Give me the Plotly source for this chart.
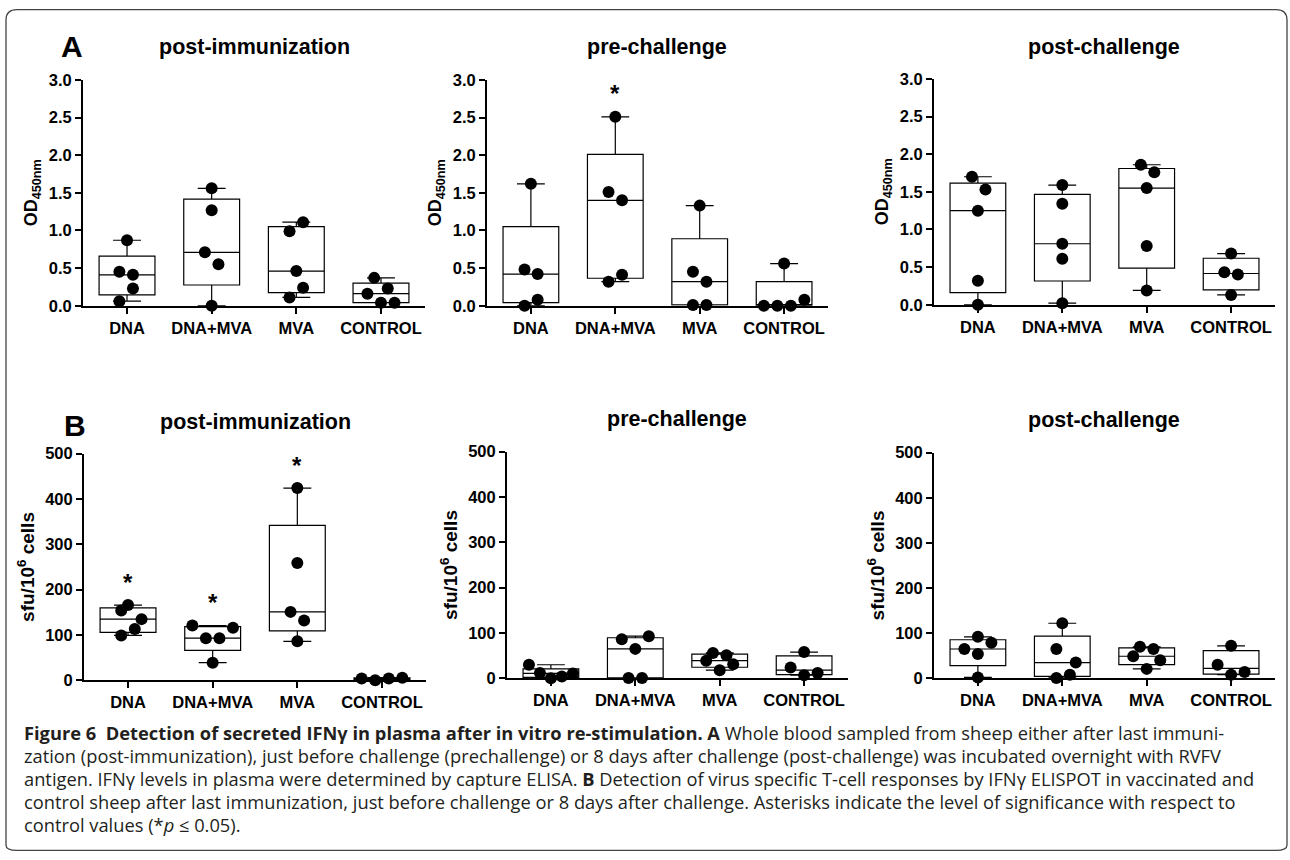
import numpy as np
import plotly.graph_objects as go

W, H = 1290, 860

CATEGORIES = ["DNA", "DNA+MVA", "MVA", "CONTROL"]

# ---------- Panel A: IFN-gamma ELISA, OD450nm (one list per group) ----------
A_POSTIMM = [[0.87, 0.45, 0.41, 0.23, 0.06],
             [1.56, 1.27, 0.71, 0.55, 0.00],
             [1.11, 0.99, 0.46, 0.24, 0.11],
             [0.37, 0.16, 0.23, 0.04, 0.04]]
A_PRECH = [[1.62, 0.48, 0.42, 0.08, 0.00],
           [2.51, 1.51, 1.40, 0.41, 0.32],
           [1.33, 0.45, 0.32, 0.01, 0.01],
           [0.56, 0.08, 0.00, 0.00, 0.00]]
A_POSTCH = [[1.70, 1.53, 1.25, 0.32, 0.00],
            [1.59, 1.34, 0.81, 0.61, 0.02],
            [1.86, 1.76, 1.55, 0.78, 0.19],
            [0.68, 0.43, 0.40, 0.13]]

# ---------- Panel B: IFN-gamma ELISPOT, sfu/10^6 cells ----------
B_POSTIMM = [[166, 154, 135, 113, 99],
             [121, 116, 93, 93, 39],
             [424, 259, 151, 132, 86],
             [4, 0, 4, 6]]
B_PRECH = [[30, 12, 0, 4, 11],
           [86, 93, 65, 1, 1],
           [56, 51, 39, 31, 18],
           [58, 24, 12, 7]]
B_POSTCH = [[92, 79, 65, 54, 2],
            [122, 65, 35, 8, 1],
            [70, 65, 49, 40, 21],
            [72, 30, 14, 8]]

# significance marks (* p <= 0.05 vs control)
A_POSTIMM_SIG = ["", "", "", ""]
A_PRECH_SIG = ["", "*", "", ""]
A_POSTCH_SIG = ["", "", "", ""]
B_POSTIMM_SIG = ["*", "*", "*", ""]
B_PRECH_SIG = ["", "", "", ""]
B_POSTCH_SIG = ["", "", "", ""]

# horizontal scatter (jitter) of the dots inside each group - style only
A_POSTIMM_JIT = [[0, -.09, .07, .07, -.09], [0, 0, -.08, .08, 0],
                 [.08, -.08, 0, .08, -.08], [-.08, -.16, .08, 0, .16]]
A_PRECH_JIT = [[0, -.075, .08, .08, -.075], [0, -.08, .08, .08, -.08],
               [0, -.08, .08, -.08, .08], [0, .24, -.24, -.08, .08]]
A_POSTCH_JIT = [[-.07, .09, 0, 0, 0], [0, 0, 0, 0, 0],
                [-.07, .09, 0, 0, 0], [0, -.08, .08, 0]]
B_POSTIMM_JIT = [[0, -.08, .16, .08, -.08], [-.24, .24, -.08, .08, 0],
                 [0, 0, -.08, .08, 0], [-.24, -.08, .08, .24]]
B_PRECH_JIT = [[-.26, -.13, 0, .13, .26], [-.16, .16, 0, -.08, .08],
               [-.08, .08, -.16, .16, 0], [0, -.16, .16, 0]]
B_POSTCH_JIT = [[0, .16, -.16, 0, 0], [0, -.07, .16, .09, -.07],
                [-.08, .08, -.16, .16, 0], [0, -.16, .16, 0]]

PANEL_TITLES = ["post-immunization", "pre-challenge", "post-challenge"]
A_YTITLE = "OD<sub>450nm</sub>"
B_YTITLE = "sfu/10<sup>6</sup> cells"

CAPTION = [
    "<b>Figure 6\u00a0 Detection of secreted IFNγ in plasma after in vitro re-stimulation. A</b> Whole blood sampled from sheep either after last immuni-",
    "zation (post-immunization), just before challenge (prechallenge) or 8 days after challenge (post-challenge) was incubated overnight with RVFV",
    "antigen. IFNγ levels in plasma were determined by capture ELISA. <b>B</b> Detection of virus specific T-cell responses by IFNγ ELISPOT in vaccinated and",
    "control sheep after last immunization, just before challenge or 8 days after challenge. Asterisks indicate the level of significance with respect to",
    "control values (*<i>p</i> ≤ 0.05).",
]

# ---------- layout geometry (target pixels -> paper fractions) ----------
Y_OFF, Y_SCALE = 8.0, 0.98   # calibration of the captured page


def px(x):
    return x / W


def py(y):
    yp = (y - Y_OFF) / Y_SCALE
    yp = min(max(yp, 0.7), H - 0.7)
    return 1 - yp / H


panels = [
    (A_POSTIMM, A_POSTIMM_JIT, A_POSTIMM_SIG, (83, 425), (79, 305), 3.0, 0.5, A_YTITLE, ".1f", 18),
    (A_PRECH, A_PRECH_JIT, A_PRECH_SIG, (487, 828), (79, 305), 3.0, 0.5, A_YTITLE, ".1f", 18),
    (A_POSTCH, A_POSTCH_JIT, A_POSTCH_SIG, (934, 1275), (78, 304), 3.0, 0.5, A_YTITLE, ".1f", 18),
    (B_POSTIMM, B_POSTIMM_JIT, B_POSTIMM_SIG, (84, 426), (453, 680), 500, 100, B_YTITLE, "d", 19),
    (B_PRECH, B_PRECH_JIT, B_PRECH_SIG, (507, 848), (451, 678), 500, 100, B_YTITLE, "d", 19),
    (B_POSTCH, B_POSTCH_JIT, B_POSTCH_SIG, (934, 1275), (452, 678), 500, 100, B_YTITLE, "d", 19),
]

FONT = "Liberation Sans, Arial, sans-serif"
fig = go.Figure()
annotations = []

for k, (groups, jit, sig, (xl, xr), (yt, yb), ymax, dtick, ytitle, fmt, tsize) in enumerate(panels):
    n = k + 1
    xa = "x" if n == 1 else f"x{n}"
    ya = "y" if n == 1 else f"y{n}"
    pos = list(range(len(CATEGORIES)))
    q1 = [float(np.percentile(g, 25, method="weibull")) for g in groups]
    med = [float(np.median(g)) for g in groups]
    q3 = [float(np.percentile(g, 75, method="weibull")) for g in groups]
    lo = [min(g) for g in groups]
    hi = [max(g) for g in groups]
    fig.add_trace(go.Box(
        x=pos, q1=q1, median=med, q3=q3, lowerfence=lo, upperfence=hi,
        width=0.66, whiskerwidth=0.5, boxpoints=False,
        line=dict(color="black", width=1.2), fillcolor="white",
        xaxis=xa, yaxis=ya, showlegend=False, hoverinfo="skip"))
    xs, ys = [], []
    for i, g in enumerate(groups):
        for v, j in zip(g, jit[i]):
            xs.append(i + j)
            ys.append(v)
    fig.add_trace(go.Scatter(
        x=xs, y=ys, mode="markers",
        marker=dict(color="black", size=12, line=dict(width=0)),
        cliponaxis=False, xaxis=xa, yaxis=ya, showlegend=False))
    for i, s in enumerate(sig):
        if s:
            annotations.append(dict(
                x=i, y=max(groups[i]), xref=xa, yref=ya, text=s,
                showarrow=False, yshift=23, yanchor="middle",
                font=dict(family=FONT, size=24, color="black", weight="bold")))
    axis_common = dict(showline=True, linecolor="black", linewidth=2,
                       ticks="outside", ticklen=6, tickwidth=2, tickcolor="black",
                       showgrid=False, zeroline=False,
                       tickfont=dict(family=FONT, size=16.5, color="black", weight="bold"))
    fig.update_layout({
        ("xaxis" if n == 1 else f"xaxis{n}"): dict(
            domain=[px(xl), px(xr)], anchor=ya, range=[-0.52, 3.52],
            tickvals=pos, ticktext=CATEGORIES, **axis_common),
        ("yaxis" if n == 1 else f"yaxis{n}"): dict(
            domain=[py(yb), py(yt)], anchor=xa, range=[0, ymax],
            dtick=dtick, tick0=0, tickformat=fmt,
            title=dict(text=ytitle, standoff=6,
                       font=dict(family=FONT, size=tsize, color="black", weight="bold")),
            **axis_common),
    })

# panel titles and letters
title_pos = [(254, 46), (657, 46), (1104, 46), (255, 421), (677, 418), (1104, 419)]
for t, (cx, cy) in enumerate(title_pos):
    annotations.append(dict(x=px(cx), y=py(cy), xref="paper", yref="paper",
                            text=PANEL_TITLES[t % 3], showarrow=False,
                            xanchor="center", yanchor="middle",
                            font=dict(family=FONT, size=21.5, color="black", weight="bold")))
for letter, (cx, cy) in zip(["A", "B"], [(72, 46), (75, 425)]):
    annotations.append(dict(x=px(cx), y=py(cy), xref="paper", yref="paper",
                            text=letter, showarrow=False,
                            xanchor="center", yanchor="middle",
                            font=dict(family=FONT, size=30, color="black", weight="bold")))

# caption
cap_y = [732, 755, 778, 801, 824]
for line, cy in zip(CAPTION, cap_y):
    annotations.append(dict(x=px(22), y=py(cy), xref="paper", yref="paper",
                            text=line, showarrow=False, xanchor="left", yanchor="middle",
                            font=dict(family="Open Sans, Noto Sans, sans-serif", size=18.3,
                                      color="#231f20")))

# rounded frame around the figure
x0, x1, y0, y1, r = 6, 1287, 8, 856, 11
path = (f"M {px(x0 + r)},{py(y0)} L {px(x1 - r)},{py(y0)} "
        f"Q {px(x1)},{py(y0)} {px(x1)},{py(y0 + r)} L {px(x1)},{py(y1 - r)} "
        f"Q {px(x1)},{py(y1)} {px(x1 - r)},{py(y1)} L {px(x0 + r)},{py(y1)} "
        f"Q {px(x0)},{py(y1)} {px(x0)},{py(y1 - r)} L {px(x0)},{py(y0 + r)} "
        f"Q {px(x0)},{py(y0)} {px(x0 + r)},{py(y0)} Z")
fig.add_shape(type="path", path=path, xref="paper", yref="paper",
              line=dict(color="#444444", width=1.3), layer="below")

fig.update_layout(
    width=W, height=H, margin=dict(l=0, r=0, t=0, b=0),
    paper_bgcolor="white", plot_bgcolor="white",
    font=dict(family=FONT, color="black"),
    annotations=annotations, showlegend=False,
)

PAGE_FIX = """
var de = document.documentElement, bd = document.body;
de.style.margin = '0'; de.style.padding = '0';
bd.style.margin = '0'; bd.style.padding = '0';
var gd = document.getElementById('{plot_id}');
gd.style.position = 'absolute'; gd.style.left = '0px'; gd.style.top = '0px';
"""

fig.write_html("out.html", config={"displayModeBar": False, "responsive": False},
               post_script=PAGE_FIX)
